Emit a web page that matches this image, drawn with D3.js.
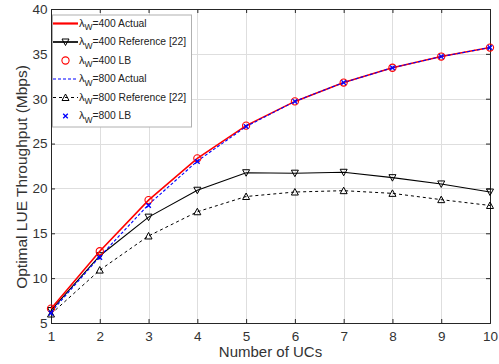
<!DOCTYPE html>
<html>
<head>
<meta charset="utf-8">
<script src="https://cdn.jsdelivr.net/npm/d3@7"></script>
<style>
  body { margin: 0; background: #fff; }
  svg text { font-family: "Liberation Sans", Arial, Helvetica, sans-serif; }
</style>
</head>
<body>
<svg id="chart" width="499" height="364"></svg>
<script>
// number of UCs
const ucs = [1, 2, 3, 4, 5, 6, 7, 8, 9, 10];
const yTicks = [5, 10, 15, 20, 25, 30, 35, 40];

// throughput values (Mbps)
const actual400 = [6.6, 13.0, 18.7, 23.35, 27.0, 29.7, 31.8, 33.45, 34.7, 35.7];
const reference400 = [6.4, 12.5, 16.8, 19.8, 21.75, 21.7, 21.8, 21.2, 20.5, 19.6];
const lb400 = [6.6, 13.0, 18.7, 23.35, 27.0, 29.7, 31.8, 33.45, 34.7, 35.7];
const actual800 = [6.2, 12.4, 18.2, 23.05, 26.9, 29.7, 31.8, 33.45, 34.7, 35.7];
const reference800 = [6.0, 10.9, 14.7, 17.4, 19.1, 19.6, 19.75, 19.45, 18.75, 18.1];
const lb800 = [6.1, 12.3, 18.1, 23.0, 26.9, 29.7, 31.8, 33.45, 34.7, 35.7];

const svg = d3.select('#chart');
const margin = { left: 51, right: 9, top: 9, bottom: 41 };
const W = 499, H = 364;
const plotW = W - margin.left - margin.right;
const plotH = H - margin.top - margin.bottom;

const x = d3.scaleLinear().domain([1, 10]).range([margin.left, margin.left + plotW]);
const y = d3.scaleLinear().domain([5, 40]).range([margin.top + plotH, margin.top]);

// grid
const grid = svg.append('g').attr('stroke', '#dedede').attr('stroke-width', 1);
grid.selectAll('.gx').data(ucs.slice(1, -1)).enter().append('line')
  .attr('x1', d => Math.round(x(d)) + 0.5).attr('x2', d => Math.round(x(d)) + 0.5)
  .attr('y1', margin.top).attr('y2', margin.top + plotH);
grid.selectAll('.gy').data(yTicks.slice(1, -1)).enter().append('line')
  .attr('y1', d => Math.round(y(d)) + 0.5).attr('y2', d => Math.round(y(d)) + 0.5)
  .attr('x1', margin.left).attr('x2', margin.left + plotW);

// axes (ticks inward, MATLAB style)
const axisColor = '#262626';
const xAxis = svg.append('g')
  .attr('transform', `translate(0,${margin.top + plotH})`)
  .call(d3.axisBottom(x).tickValues(ucs).tickSize(-4).tickPadding(8).tickFormat(d3.format('d')));
const yAxis = svg.append('g')
  .attr('transform', `translate(${margin.left},0)`)
  .call(d3.axisLeft(y).tickValues(yTicks).tickSize(-4).tickPadding(3.5).tickFormat(d3.format('d')));
const xTop = svg.append('g')
  .attr('transform', `translate(0,${margin.top})`)
  .call(d3.axisTop(x).tickValues(ucs).tickSize(-4).tickFormat(''));
const yRight = svg.append('g')
  .attr('transform', `translate(${margin.left + plotW},0)`)
  .call(d3.axisRight(y).tickValues(yTicks).tickSize(-4).tickFormat(''));
[xAxis, yAxis, xTop, yRight].forEach(a => {
  a.select('.domain').attr('stroke', axisColor);
  a.selectAll('.tick line').attr('stroke', axisColor);
  a.selectAll('.tick text').attr('fill', '#333').style('font-size', '13.5px');
});

svg.append('text')
  .attr('x', margin.left + plotW / 2).attr('y', 357)
  .attr('text-anchor', 'middle').attr('fill', '#333').style('font-size', '15px')
  .text('Number of UCs');
svg.append('text')
  .attr('transform', 'translate(27,177) rotate(-90)')
  .attr('text-anchor', 'middle').attr('fill', '#333').style('font-size', '15.5px')
  .text('Optimal LUE Throughput (Mbps)');

const line = d3.line().x((d, i) => x(ucs[i])).y(d => y(d));
const plot = svg.append('g');

const triDown = 'M-3.5,-3 L3.5,-3 L0,3.5 Z';
const triUp = 'M-3.5,3 L3.5,3 L0,-3.5 Z';

function drawMarker(g, type, color) {
  if (type === 'circle') {
    g.append('circle').attr('r', 3.6).attr('fill', 'none').attr('stroke', color).attr('stroke-width', 1.1);
  } else if (type === 'triDown') {
    g.append('path').attr('d', triDown).attr('fill', 'none').attr('stroke', color).attr('stroke-width', 1);
  } else if (type === 'triUp') {
    g.append('path').attr('d', triUp).attr('fill', 'none').attr('stroke', color).attr('stroke-width', 1);
  } else if (type === 'cross') {
    g.append('path').attr('d', 'M-2.3,-2.3 L2.3,2.3 M-2.3,2.3 L2.3,-2.3')
      .attr('stroke', color).attr('stroke-width', 1.3);
  }
}

const series = [
  { name: '=400 Actual', data: actual400, color: '#ff0000', width: 1.6, dash: null, marker: null, line: true },
  { name: '=400 Reference [22]', data: reference400, color: '#000000', width: 1.1, dash: null, marker: 'triDown', line: true },
  { name: '=400 LB', data: lb400, color: '#ff0000', width: 0, dash: null, marker: 'circle', line: false },
  { name: '=800 Actual', data: actual800, color: '#0000ff', width: 1.1, dash: '3,2', marker: null, line: true },
  { name: '=800 Reference [22]', data: reference800, color: '#000000', width: 1.0, dash: '3,3', marker: 'triUp', line: true },
  { name: '=800 LB', data: lb800, color: '#0000ff', width: 0, dash: null, marker: 'cross', line: false }
];

// draw order: reference lines, then actuals, then markers
const drawOrder = [4, 1, 0, 3, 2, 5];
drawOrder.forEach(k => {
  const s = series[k];
  if (s.line) {
    plot.append('path').attr('d', line(s.data)).attr('fill', 'none')
      .attr('stroke', s.color).attr('stroke-width', s.width)
      .attr('stroke-dasharray', s.dash);
  }
  if (s.marker) {
    s.data.forEach((v, i) => {
      const g = plot.append('g').attr('transform', `translate(${x(ucs[i])},${y(v)})`);
      drawMarker(g, s.marker, s.color);
    });
  }
});

// legend
const lg = svg.append('g');
const lgX = 52, lgY = 14.5, rowH = 18.5;
lg.append('rect').attr('x', lgX + 0.5).attr('y', lgY + 0.5).attr('width', 139).attr('height', 112)
  .attr('fill', '#fff').attr('stroke', '#b0b0b0');
series.forEach((s, i) => {
  const cy = lgY + 9 + i * rowH;
  if (s.line) {
    lg.append('line').attr('x1', lgX + 1).attr('x2', lgX + 26).attr('y1', cy).attr('y2', cy)
      .attr('stroke', s.color).attr('stroke-width', s.width + (s.dash ? 0 : 0.6))
      .attr('stroke-dasharray', s.dash);
  }
  if (s.marker) {
    drawMarker(lg.append('g').attr('transform', `translate(${lgX + 13.5},${cy})`), s.marker, s.color);
  }
  const t = lg.append('text').attr('x', lgX + 27).attr('y', cy + 3)
    .attr('fill', '#222').style('font-size', '10.3px');
  t.append('tspan').style('font-size', '11px').text('λ');
  t.append('tspan').attr('dy', 3.5).style('font-size', '8.5px').text('W');
  t.append('tspan').attr('dy', -3.5).text(s.name);
});
</script>
</body>
</html>
